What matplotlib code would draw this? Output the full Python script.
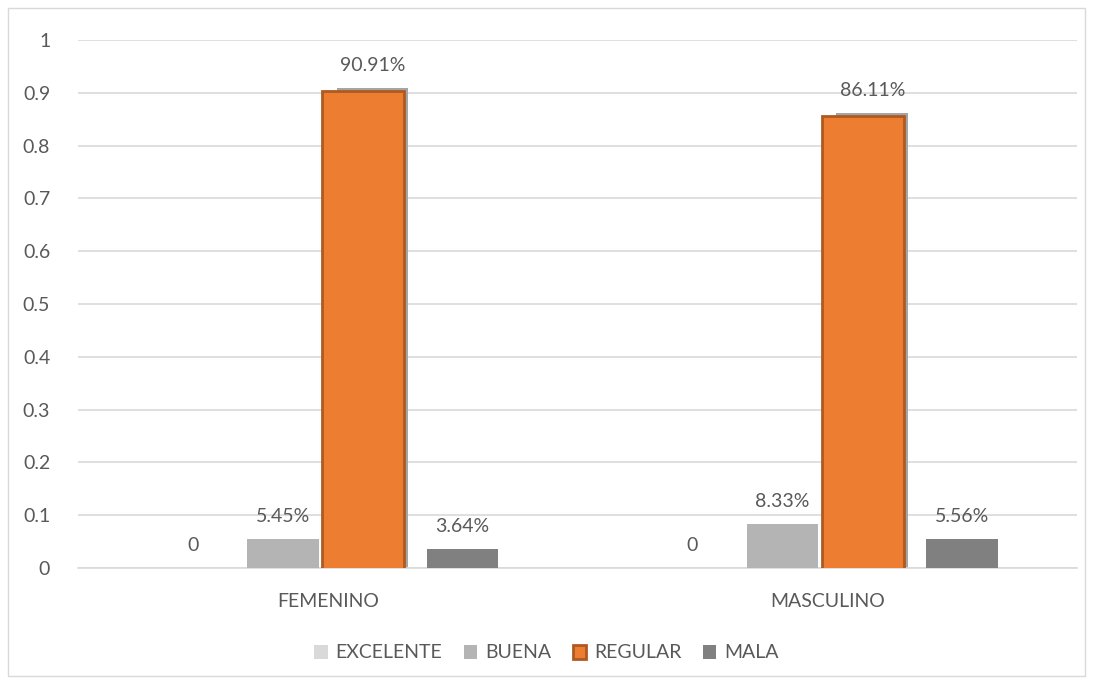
import matplotlib.pyplot as plt
from matplotlib.patches import Rectangle
import matplotlib.transforms as mtransforms
import numpy as np

plt.rcParams['font.family'] = ['Lato', 'DejaVu Sans']

# datos
categorias = ['FEMENINO', 'MASCULINO']
series = ['EXCELENTE', 'BUENA', 'REGULAR', 'MALA']
excelente = [0.0, 0.0]
buena = [0.0545, 0.0833]
regular = [0.9091, 0.8611]
mala = [0.0364, 0.0556]
etiquetas = {
    'EXCELENTE': ['0', '0'],
    'BUENA': ['5.45%', '8.33%'],
    'REGULAR': ['90.91%', '86.11%'],
    'MALA': ['3.64%', '5.56%'],
}
colores = {'EXCELENTE': '#D9D9D9', 'BUENA': '#B4B4B4', 'REGULAR': '#ED7D31', 'MALA': '#808080'}
valores = {'EXCELENTE': excelente, 'BUENA': buena, 'REGULAR': regular, 'MALA': mala}

texto = '#595959'
gris_linea = '#D9D9D9'

fig = plt.figure(figsize=(10.93, 6.84), dpi=100)
ax = fig.add_axes([78 / 1093, 1 - 568 / 684, 999 / 1093, 528 / 684])

# marco exterior
fig.patches.append(Rectangle((8 / 1093, 8 / 684), 1077 / 1093, 668 / 684,
                             transform=fig.transFigure, fill=False,
                             edgecolor='#D9D9D9', linewidth=1))

x = np.arange(len(categorias))
paso = 0.18
ancho = 0.143
handles = []
for i, s in enumerate(series):
    pos = x + (i - 1.5) * paso
    vals = valores[s]
    if s == 'REGULAR':
        # sombra gris detras de la barra naranja
        ax.bar(pos, vals, ancho, color='#A5A5A5', zorder=2)
        desplazada = mtransforms.offset_copy(ax.transData, fig=fig, x=0, y=-3, units='dots')
        b = ax.bar(pos - 0.019, vals, 0.164, color=colores[s], edgecolor='#AE5A21',
                   linewidth=2, zorder=3, transform=desplazada, label=s)
    else:
        b = ax.bar(pos, vals, ancho, color=colores[s], zorder=3, label=s)
    handles.append(b)
    for xp, v, t in zip(pos, vals, etiquetas[s]):
        ax.annotate(t, (xp, v), xytext=(0, 10), textcoords='offset points',
                    ha='center', va='bottom', fontsize=14, color=texto)

ax.set_xlim(-0.5, 1.5)
ax.set_ylim(0, 1)
ax.set_yticks(np.arange(0, 1.01, 0.1))
ax.set_yticklabels(['{:g}'.format(round(v, 1)) for v in np.arange(0, 1.01, 0.1)])
ax.set_xticks(x)
ax.set_xticklabels(categorias)
ax.tick_params(axis='y', length=0, pad=20, labelsize=14, labelcolor=texto)
ax.tick_params(axis='x', length=0, pad=18, labelsize=14, labelcolor=texto)
ax.grid(axis='y', color=gris_linea, linewidth=1.2, zorder=0)
ax.set_axisbelow(True)
for lado in ['top', 'right', 'left']:
    ax.spines[lado].set_visible(False)
ax.spines['bottom'].set_color(gris_linea)
ax.spines['bottom'].set_linewidth(1.2)

fig.legend(handles=handles, labels=series, loc='center', bbox_to_anchor=(0.5, 1 - 653 / 684),
           ncol=4, frameon=False, fontsize=14, labelcolor=texto, handlelength=0.7,
           handleheight=0.7, handletextpad=0.4, columnspacing=1.1)

fig.savefig('out.png', dpi=100)
